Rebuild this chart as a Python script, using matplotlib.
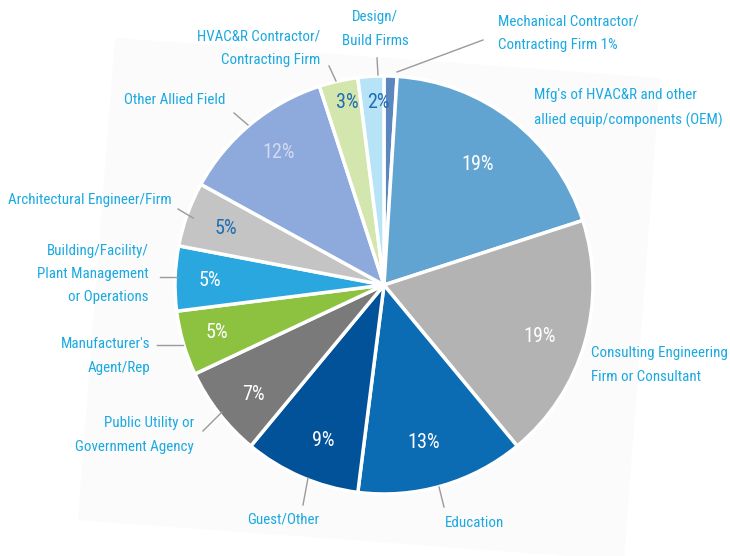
import matplotlib
matplotlib.use("Agg")
import matplotlib.pyplot as plt
from matplotlib import font_manager
from matplotlib.font_manager import FontProperties
from matplotlib.patches import Polygon

# ---- pick the narrowest available sans font ----
narrow = None
prio = ['Roboto Condensed', 'Liberation Sans Narrow', 'Open Sans Condensed',
        'DejaVu Sans Condensed', 'Noto Sans Condensed', 'Noto Sans Display Condensed']
cands = []
for f in font_manager.fontManager.ttflist:
    nm = f.name
    st = str(f.stretch)
    isnarrow = ('Condensed' in nm or 'Narrow' in nm or
                st in ('condensed', 'semi-condensed', 'extra-condensed', 'ultra-condensed')
                or 'Condensed' in f.fname or 'Narrow' in f.fname)
    if isnarrow and f.style == 'normal' and 'Bold' not in f.fname and 'Light' not in f.fname \
            and 'Mono' not in nm and 'Serif' not in nm and 'Serif' not in f.fname:
        w = f.weight if isinstance(f.weight, int) else 400
        if 350 <= w <= 500:
            cands.append(f)
if cands:
    def key(f):
        for i, p in enumerate(prio):
            if p in f.name or p.replace(' ', '') in f.fname:
                return i
        return len(prio)
    cands.sort(key=key)
    narrow = cands[0].fname

if narrow:
    LBL = FontProperties(fname=narrow, size=10.8)
    PCT = FontProperties(fname=narrow, size=14.5)
else:
    LBL = FontProperties(family=['Roboto', 'DejaVu Sans'], size=9.5)
    PCT = FontProperties(family=['Roboto', 'DejaVu Sans'], size=13)

# ---- data ----
categories = [
    "Mechanical Contractor/\nContracting Firm 1%",
    "Mfg's of HVAC&R and other\nallied equip/components (OEM)",
    "Consulting Engineering\nFirm or Consultant",
    "Education",
    "Guest/Other",
    "Public Utility or\nGovernment Agency",
    "Manufacturer's\nAgent/Rep",
    "Building/Facility/\nPlant Management\nor Operations",
    "Architectural Engineer/Firm",
    "Other Allied Field",
    "HVAC&R Contractor/\nContracting Firm",
    "Design/\nBuild Firms",
]
values = [1, 19, 19, 13, 9, 7, 5, 5, 5, 12, 3, 2]
pct_labels = ["", "19%", "19%", "13%", "9%", "7%", "5%", "5%", "5%", "12%", "3%", "2%"]

# ---- styles / layout (pixel coordinates, y measured from top) ----
colors = ["#5B87BE", "#62A4D1", "#B3B3B3", "#0B6CB3", "#02529A", "#7A7A7A",
          "#8DC241", "#2BA7E0", "#C4C4C4", "#8EA9DB", "#D3E6AE", "#B7E3F6"]
pct_colors = ["white", "white", "white", "white", "white", "white",
              "white", "white", "#1E6DB5", "#D3DAEF", "#1E6DB5", "#1E6DB5"]
pct_pos = [None, (478, 165), (540, 337), (424, 443), (323, 440), (253, 394),
           (217, 332), (210, 280), (226, 228), (279, 153), (347, 103), (378, 102)]
label_pos = [(498, 33, 'left'), (534, 108, 'left'), (591, 365, 'left'),
             (474, 523, 'center'), (283, 520, 'center'), (194, 435, 'right'),
             (150, 356, 'right'), (149, 274, 'right'), (172, 200, 'right'),
             (225, 100, 'right'), (320, 48, 'right'), (375, 29, 'center')]
leaders = [((483, 40), (397, 72)), None, None, ((444, 507), (439, 487)),
           ((303, 505), (308, 478)), ((203, 431), (222, 412)),
           ((157, 345), (183, 345)), ((160, 277), (178, 277)),
           ((178, 209), (193, 218)), ((234, 113), (248, 125)),
           ((329, 66), (336, 81)), ((377, 58), (378, 75))]

W, H = 730, 556
CX, CY, R = 384, 285, 209
LABEL_COLOR = "#1AA9E1"


def Y(y):
    return H - y


fig = plt.figure(figsize=(7.3, 5.56), dpi=100)
ax = fig.add_axes([0, 0, 1, 1])

# faint tilted background panel
ax.add_patch(Polygon([(115, Y(38)), (660, Y(78)), (624, Y(560)), (78, Y(520))],
                     closed=True, facecolor="#FBFBFB", edgecolor="none", zorder=0))

wedges, _ = ax.pie(values, colors=colors, startangle=90, counterclock=False,
                   center=(CX, Y(CY)), radius=R,
                   wedgeprops=dict(edgecolor="white", linewidth=2.5))
for w in wedges:
    w.set_zorder(2)

for lab, pos, col in zip(pct_labels, pct_pos, pct_colors):
    if pos is None:
        continue
    ax.text(pos[0], Y(pos[1]), lab, color=col, fontproperties=PCT,
            ha='center', va='center', zorder=3)

for lab, (x, y, ha) in zip(categories, label_pos):
    ax.text(x, Y(y), lab, color=LABEL_COLOR, fontproperties=LBL,
            ha=ha, va='center', multialignment=ha, linespacing=1.85, zorder=3)

for ld in leaders:
    if ld is None:
        continue
    (x0, y0), (x1, y1) = ld
    ax.plot([x0, x1], [Y(y0), Y(y1)], color="#9A9A9A", lw=1.0, zorder=3)

ax.set_xlim(0, W)
ax.set_ylim(0, H)
ax.set_aspect('equal')
ax.axis('off')
fig.savefig("out.png", dpi=100, facecolor="white")
